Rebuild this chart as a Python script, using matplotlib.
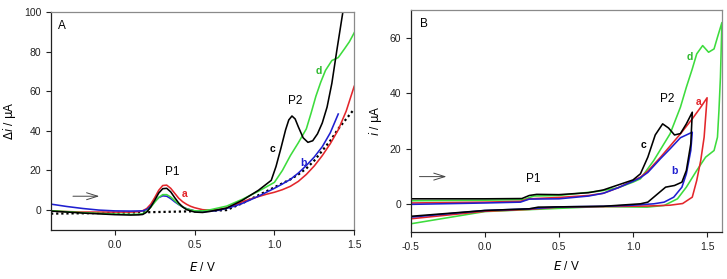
import matplotlib.pyplot as plt

plt.rcParams['font.family'] = ['Liberation Sans', 'DejaVu Sans']

RED = '#e3262b'
BLUE = '#1f1fd0'
GREEN = '#3ddc3d'
BLACK = '#000000'

# ---- panel A : DPV curves ----
a_E = [-0.4, -0.2, 0.0, 0.1, 0.15, 0.175, 0.2, 0.225, 0.25, 0.275, 0.3, 0.325, 0.35, 0.375, 0.4,
       0.425, 0.45, 0.475, 0.5, 0.55, 0.6, 0.65, 0.7, 0.75, 0.8, 0.85, 0.9, 0.95, 1.0, 1.05, 1.1,
       1.15, 1.2, 1.25, 1.3, 1.35, 1.4, 1.45, 1.5]
a_i = [-0.5, -1.0, -1.0, -1.0, -0.8, -0.3, 0.8, 3.0, 6.3, 10.0, 12.4, 12.6, 11.0, 8.5, 6.0,
       4.2, 2.9, 1.9, 1.2, 0.2, 0.0, 0.3, 1.0, 2.5, 4.2, 5.6, 6.8, 8.0, 9.0, 10.3, 12.0,
       14.5, 18.0, 22.3, 27.5, 33.5, 40.5, 50.0, 62.5]

b_E = [-0.4, -0.3, -0.2, -0.1, 0.0, 0.1, 0.175, 0.2, 0.225, 0.25, 0.275, 0.3, 0.325, 0.35, 0.375,
       0.4, 0.425, 0.45, 0.5, 0.55, 0.6, 0.65, 0.7, 0.75, 0.8, 0.85, 0.9, 0.95, 1.0, 1.05, 1.1,
       1.15, 1.2, 1.25, 1.3, 1.35, 1.4]
b_i = [3.0, 1.8, 0.8, 0.0, -0.4, -0.5, -0.4, 0.3, 2.0, 4.3, 6.3, 7.2, 7.0, 5.8, 4.2,
       2.8, 1.6, 0.7, -0.4, -0.8, -0.6, -0.1, 0.8, 2.0, 3.4, 5.2, 7.0, 9.0, 11.0, 13.2, 15.5,
       18.7, 22.5, 26.8, 32.0, 39.0, 48.5]

c_E = [-0.4, -0.2, 0.0, 0.1, 0.15, 0.175, 0.2, 0.225, 0.25, 0.275, 0.3, 0.325, 0.35, 0.375, 0.4,
       0.425, 0.45, 0.5, 0.55, 0.6, 0.7, 0.8, 0.9, 0.98, 1.01, 1.04, 1.07, 1.09, 1.11, 1.13,
       1.15, 1.18, 1.21, 1.24, 1.27, 1.3, 1.33, 1.36, 1.39, 1.43]
c_i = [-0.5, -1.5, -2.3, -2.5, -2.4, -2.2, -1.0, 1.6, 5.0, 8.6, 10.8, 11.0, 9.2, 6.3, 3.6,
       1.6, 0.2, -1.0, -1.2, -0.6, 1.0, 5.0, 10.0, 15.0, 22.0, 31.0, 40.5, 45.5, 47.5, 46.0,
       42.0, 36.5, 34.2, 35.0, 38.5, 44.0, 52.0, 64.0, 80.0, 100.5]

d_E = [-0.4, -0.2, 0.0, 0.1, 0.15, 0.175, 0.2, 0.225, 0.25, 0.275, 0.3, 0.325, 0.35, 0.375, 0.4,
       0.425, 0.45, 0.5, 0.55, 0.6, 0.7, 0.8, 0.9, 1.0, 1.05, 1.1, 1.15, 1.2, 1.23, 1.26, 1.29,
       1.32, 1.36, 1.4, 1.44, 1.47, 1.5]
d_i = [-0.3, -1.3, -2.0, -2.2, -2.1, -1.8, -0.6, 1.4, 4.0, 6.4, 7.8, 7.8, 6.6, 4.8, 3.0,
       1.6, 0.6, -0.4, -0.4, 0.2, 2.0, 5.5, 9.5, 14.0, 20.0, 27.5, 34.0, 41.0, 49.0, 57.5, 64.5,
       70.5, 75.5, 77.0, 81.5, 85.0, 89.5]

base_E = [-0.4, 0.0, 0.5, 0.6, 0.7, 0.8, 0.9, 1.0, 1.05, 1.1, 1.15, 1.2, 1.25, 1.3, 1.35, 1.4,
          1.45, 1.5]
base_i = [-1.8, -1.4, -0.6, -0.4, 0.0, 3.5, 7.5, 11.5, 13.5, 15.5, 18.0, 21.0, 25.0, 30.0, 35.0,
          41.0, 46.0, 51.0]

# ---- panel B : CV loops (forward then reverse) ----
cvc_E = [-0.5, 0.0, 0.25, 0.3, 0.35, 0.5, 0.7, 0.8, 0.9, 1.0, 1.05, 1.1, 1.15, 1.2, 1.24, 1.28,
         1.32, 1.36, 1.4, 1.39, 1.36, 1.33, 1.28, 1.22, 1.14, 1.1, 1.05, 0.8, 0.5, 0.36, 0.3, 0.0, -0.5]
cvc_i = [2.0, 2.0, 2.1, 3.2, 3.6, 3.5, 4.2, 5.2, 7.0, 8.8, 11.0, 17.0, 25.0, 29.0, 27.5, 25.0,
         25.5, 29.0, 33.2, 21.8, 12.2, 8.0, 6.8, 6.2, 2.6, 0.8, 0.2, -0.7, -0.9, -1.0, -1.6, -2.2, -4.3]

cva_E = [-0.5, 0.0, 0.24, 0.3, 0.5, 0.7, 0.8, 0.9, 1.0, 1.05, 1.1, 1.186, 1.25, 1.32, 1.4, 1.457,
         1.5, 1.48, 1.457, 1.43, 1.4, 1.335, 1.25, 1.1, 0.8, 0.5, 0.3, 0.0, -0.5]
cva_i = [0.5, 0.8, 1.1, 2.0, 2.5, 3.2, 4.0, 6.0, 8.5, 9.8, 12.0, 17.0, 21.0, 25.4, 30.8, 35.0,
         38.4, 24.2, 15.8, 8.6, 2.6, 0.3, -0.3, -0.6, -0.8, -1.0, -1.8, -2.5, -5.2]

cvb_E = [-0.5, 0.0, 0.24, 0.3, 0.5, 0.7, 0.8, 0.9, 1.0, 1.05, 1.1, 1.186, 1.25, 1.32, 1.4,
         1.39, 1.36, 1.33, 1.275, 1.21, 1.14, 1.0, 0.8, 0.5, 0.3, 0.0, -0.5]
cvb_i = [0.0, 0.5, 0.8, 1.9, 2.0, 3.0, 4.0, 6.0, 8.3, 9.6, 11.5, 16.5, 20.0, 24.0, 26.0,
         19.4, 11.0, 6.2, 2.6, 0.8, 0.2, -0.3, -0.7, -0.9, -1.6, -2.2, -4.6]

cvd_E = [-0.5, 0.0, 0.26, 0.33, 0.5, 0.78, 0.9, 1.0, 1.05, 1.14, 1.25, 1.32, 1.36, 1.4, 1.43,
         1.47, 1.51, 1.547, 1.57, 1.6, 1.59, 1.58, 1.57, 1.547, 1.49, 1.43, 1.36, 1.3, 1.21,
         1.095, 0.78, 0.3, 0.0, -0.5]
cvd_i = [1.3, 1.5, 1.7, 3.0, 3.2, 4.8, 6.0, 8.0, 9.2, 15.8, 25.4, 35.0, 42.2, 48.8, 54.2,
         57.2, 54.8, 56.0, 60.2, 65.5, 45.8, 33.8, 24.2, 19.4, 17.0, 12.2, 6.2, 2.0, -0.4,
         -1.0, -0.8, -1.9, -2.6, -7.0]

fig = plt.figure(figsize=(7.27, 2.79), dpi=100)
axA = fig.add_axes([0.0702, 0.176, 0.417, 0.781])
axB = fig.add_axes([0.565, 0.168, 0.428, 0.796])


def style(ax):
    for s in ['top', 'right']:
        ax.spines[s].set_color('#8a8a8a')
    for s in ['left', 'bottom']:
        ax.spines[s].set_color('#222222')
    for s in ax.spines.values():
        s.set_linewidth(0.9)
    ax.tick_params(direction='out', length=3.5, width=0.8, labelsize=7.5,
                   top=False, right=False, colors='#222222')


lw = 1.15
axA.plot(base_E, base_i, color=BLACK, lw=1.6, ls=(0, (1, 1.3)))
axA.plot(a_E, a_i, color=RED, lw=lw)
axA.plot(b_E, b_i, color=BLUE, lw=lw)
axA.plot(d_E, d_i, color=GREEN, lw=lw)
axA.plot(c_E, c_i, color=BLACK, lw=lw)
axA.set_xlim(-0.4, 1.5)
axA.set_ylim(-10, 100)
axA.set_xticks([0.0, 0.5, 1.0, 1.5])
axA.set_xticklabels(['0.0', '0.5', '1.0', '1.5'])
axA.set_yticks([0, 20, 40, 60, 80, 100])
style(axA)
axA.set_xlabel(r'$E$ / V', fontsize=8.5, labelpad=8)
axA.set_ylabel(r'$\Delta$$i$ / $\mathrm{\mu}$A', fontsize=8.5, labelpad=4)

axA.text(-0.33, 93, 'A', fontsize=8.5, ha='center', va='center')
axA.text(0.36, 19, 'P1', fontsize=8.5, ha='center', va='center')
axA.text(1.13, 55, 'P2', fontsize=8.5, ha='center', va='center')
axA.text(0.44, 8, 'a', color=RED, fontsize=7.5, fontweight='bold', ha='center', va='center')
axA.text(1.18, 24, 'b', color=BLUE, fontsize=7.5, fontweight='bold', ha='center', va='center')
axA.text(0.99, 31, 'c', color=BLACK, fontsize=7.5, fontweight='bold', ha='center', va='center')
axA.text(1.28, 70, 'd', color='#2cb82c', fontsize=7.5, fontweight='bold', ha='center', va='center')
axA.annotate('', xy=(-0.08, 7), xytext=(-0.28, 7),
             arrowprops=dict(arrowstyle='->,head_length=0.8,head_width=0.25', color='#444444', lw=0.7))

axB.plot(cvd_E, cvd_i, color=GREEN, lw=lw)
axB.plot(cva_E, cva_i, color=RED, lw=lw)
axB.plot(cvb_E, cvb_i, color=BLUE, lw=lw)
axB.plot(cvc_E, cvc_i, color=BLACK, lw=lw)
axB.set_xlim(-0.5, 1.6)
axB.set_ylim(-10, 70)
axB.set_xticks([-0.5, 0.0, 0.5, 1.0, 1.5])
axB.set_xticklabels(['-0.5', '0.0', '0.5', '1.0', '1.5'])
axB.set_yticks([0, 20, 40, 60])
style(axB)
axB.set_xlabel(r'$E$ / V', fontsize=8.5, labelpad=6)
axB.set_ylabel(r'$i$ / $\mathrm{\mu}$A', fontsize=8.5, labelpad=4)

axB.text(-0.41, 65, 'B', fontsize=8.5, ha='center', va='center')
axB.text(0.33, 9.3, 'P1', fontsize=8.5, ha='center', va='center')
axB.text(1.23, 38, 'P2', fontsize=8.5, ha='center', va='center')
axB.text(1.44, 37, 'a', color=RED, fontsize=7.5, fontweight='bold', ha='center', va='center')
axB.text(1.28, 12, 'b', color=BLUE, fontsize=7.5, fontweight='bold', ha='center', va='center')
axB.text(1.07, 21.5, 'c', color=BLACK, fontsize=7.5, fontweight='bold', ha='center', va='center')
axB.text(1.38, 53, 'd', color='#2cb82c', fontsize=7.5, fontweight='bold', ha='center', va='center')
axB.annotate('', xy=(-0.24, 10), xytext=(-0.46, 10),
             arrowprops=dict(arrowstyle='->,head_length=0.8,head_width=0.25', color='#444444', lw=0.7))

fig.savefig('out.png', dpi=100)
